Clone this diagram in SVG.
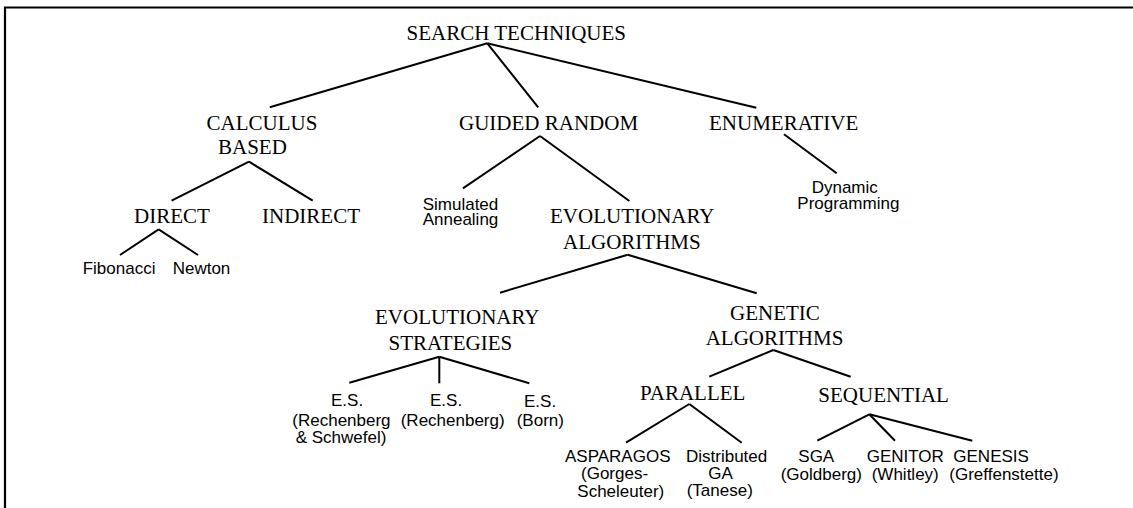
<svg xmlns="http://www.w3.org/2000/svg" width="1133" height="508" viewBox="0 0 1133 508">
<style>
.s{font-family:"Liberation Serif","Times New Roman",serif;font-size:21px;fill:#000}
.a{font-family:"Liberation Sans",Arial,sans-serif;font-size:17px;fill:#000}
.c line{stroke:#000;stroke-width:2;stroke-linecap:butt}
.f{stroke:#000;stroke-width:2.2;fill:none}
</style>
<rect width="1133" height="508" fill="#fff"/>
<path class="f" d="M5,508 V7.5 H1133"/>
<g id="connectors" class="c">
<line x1="487.3" y1="43.3" x2="269.8" y2="107.3"/>
<line x1="487.3" y1="43.3" x2="538.2" y2="107.3"/>
<line x1="487.3" y1="43.3" x2="756.3" y2="107.7"/>
<line x1="249" y1="161.7" x2="171.6" y2="200.7"/>
<line x1="249" y1="161.7" x2="312.7" y2="200.7"/>
<line x1="158.6" y1="229.3" x2="120" y2="255"/>
<line x1="158.6" y1="229.3" x2="198" y2="255"/>
<line x1="540" y1="136" x2="462.9" y2="188.3"/>
<line x1="540" y1="136" x2="629.4" y2="201"/>
<line x1="784" y1="134.3" x2="836.7" y2="173.3"/>
<line x1="627.7" y1="254.7" x2="500" y2="292.7"/>
<line x1="627.7" y1="254.7" x2="756.7" y2="293.3"/>
<line x1="439.3" y1="356.7" x2="349.3" y2="382.7"/>
<line x1="439.3" y1="356.7" x2="439.3" y2="383.3"/>
<line x1="439.3" y1="356.7" x2="529.3" y2="383.3"/>
<line x1="773.3" y1="350" x2="709.3" y2="376.7"/>
<line x1="773.3" y1="350" x2="850.7" y2="376.7"/>
<line x1="689.3" y1="404" x2="626" y2="442.7"/>
<line x1="689.3" y1="404" x2="741.7" y2="442.7"/>
<line x1="869.3" y1="414.3" x2="817.3" y2="440.7"/>
<line x1="869.3" y1="414.3" x2="895" y2="440.7"/>
<line x1="869.3" y1="414.3" x2="972.3" y2="440.7"/>
</g>
<g id="search-techniques"><text class="s" x="406.5" y="39.5">SEARCH TECHNIQUES</text></g>
<g id="calculus-based"><text class="s" x="206.5" y="129.5">CALCULUS</text><text class="s" x="218" y="153.5">BASED</text></g>
<g id="guided-random"><text class="s" x="459" y="129.5">GUIDED RANDOM</text></g>
<g id="enumerative"><text class="s" x="709" y="129.5">ENUMERATIVE</text></g>
<g id="direct"><text class="s" x="134" y="222.5">DIRECT</text></g>
<g id="indirect"><text class="s" x="262" y="222.5">INDIRECT</text></g>
<g id="fibonacci"><text class="a" x="82.7" y="274">Fibonacci</text></g>
<g id="newton"><text class="a" x="172.7" y="274">Newton</text></g>
<g id="simulated-annealing"><text class="a" x="422.7" y="210">Simulated</text><text class="a" x="422.7" y="225">Annealing</text></g>
<g id="dynamic-programming"><text class="a" x="811.7" y="193">Dynamic</text><text class="a" x="797.3" y="208.5">Programming</text></g>
<g id="evolutionary-algorithms"><text class="s" x="550" y="223">EVOLUTIONARY</text><text class="s" x="563" y="248.5">ALGORITHMS</text></g>
<g id="evolutionary-strategies"><text class="s" x="375" y="324">EVOLUTIONARY</text><text class="s" x="388.5" y="350">STRATEGIES</text></g>
<g id="genetic-algorithms"><text class="s" x="730" y="319.5">GENETIC</text><text class="s" x="705.7" y="345">ALGORITHMS</text></g>
<g id="es-rechenberg-schwefel"><text class="a" x="331" y="405.5">E.S.</text><text class="a" x="292.3" y="425.5">(Rechenberg</text><text class="a" x="295.7" y="443">&amp; Schwefel)</text></g>
<g id="es-rechenberg"><text class="a" x="430" y="405.5">E.S.</text><text class="a" x="400.7" y="425.5">(Rechenberg)</text></g>
<g id="es-born"><text class="a" x="524" y="406.5">E.S.</text><text class="a" x="516.7" y="426">(Born)</text></g>
<g id="parallel"><text class="s" x="640" y="400">PARALLEL</text></g>
<g id="sequential"><text class="s" x="818.3" y="402.3">SEQUENTIAL</text></g>
<g id="asparagos"><text class="a" x="565" y="462.3">ASPARAGOS</text><text class="a" x="581" y="479">(Gorges-</text><text class="a" x="577.3" y="496.5">Scheleuter)</text></g>
<g id="distributed-ga"><text class="a" x="686" y="462.3">Distributed</text><text class="a" x="708.3" y="479">GA</text><text class="a" x="686.7" y="495.5">(Tanese)</text></g>
<g id="sga"><text class="a" x="798.3" y="462.3">SGA</text><text class="a" x="780.7" y="479.5">(Goldberg)</text></g>
<g id="genitor"><text class="a" x="866.7" y="462.3">GENITOR</text><text class="a" x="871.7" y="479.5">(Whitley)</text></g>
<g id="genesis"><text class="a" x="953.3" y="462.3">GENESIS</text><text class="a" x="949.3" y="479.5">(Greffenstette)</text></g>
</svg>
